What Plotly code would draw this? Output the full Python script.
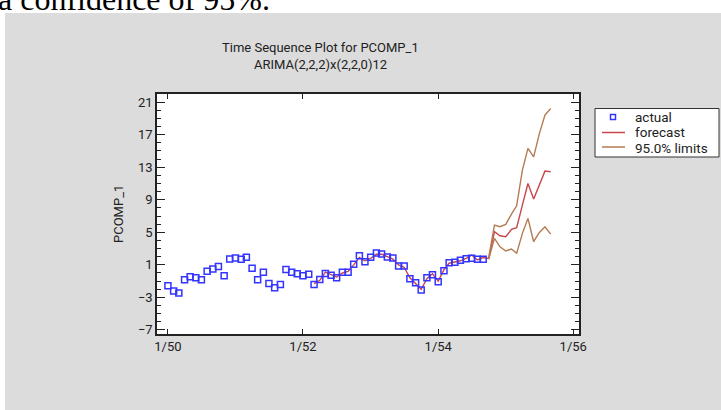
import plotly.graph_objects as go
import pandas as pd

# ---------------- data ----------------
actual_start = "1950-01-01"
actual = [-1.57, -2.2, -2.46, -0.83, -0.46, -0.58, -0.83, 0.2, 0.48, 0.8,
          -0.34, 1.71, 1.84, 1.68, 1.92, 0.57, -0.83, 0.08, -1.3, -1.83,
          -1.42, 0.44, 0.08, -0.09, -0.34, -0.17, -1.42, -0.8, -0.05, -0.29,
          -0.58, 0.08, 0.08, 1.06, 2.12, 1.38, 1.92, 2.45, 2.33, 1.96,
          1.84, 0.85, 0.85, -0.71, -1.2, -2.1, -0.58, -0.21, -1.07, 0.28,
          1.26, 1.31, 1.55, 1.75, 1.8, 1.68, 1.68]

fit_start = "1952-03-01"
forecast = [-1.3, -0.9, 0.1, -0.2, -0.5, 0.0, 0.2, 1.0, 1.9, 1.5,
            1.8, 2.3, 2.3, 2.0, 1.7, 1.0, 0.7, -0.6, -1.3, -2.0,
            -0.7, -0.1, -1.0, 0.4, 1.2, 1.4, 1.5, 1.8, 2.2, 1.6,
            1.9,
            1.8, 5.07, 4.58, 4.45, 5.36, 5.56, 8.35, 11.0, 9.08, 10.8,
            12.52, 12.44]

lim_start = "1954-10-01"
upper = [1.9, 5.89, 5.68, 5.97, 7.24, 8.26, 12.65, 15.31, 14.28, 17.07, 19.4, 20.22]
lower = [1.7, 4.25, 3.22, 2.7, 2.94, 2.41, 4.87, 6.71, 3.84, 4.95, 5.68, 4.78]

x_tick_vals = ["1950-01-01", "1952-01-01", "1954-01-01", "1956-01-01"]
x_tick_text = ["1/50", "1/52", "1/54", "1/56"]

title_text = "Time Sequence Plot for PCOMP_1"
subtitle_text = "ARIMA(2,2,2)x(2,2,0)12"
legend_names = ["actual", "forecast", "95.0% limits"]

# ---------------- layout geometry ----------------
WIDTH, HEIGHT = 721, 410
ML, MR, MT, MB = 157, 142, 94, 76
PW = WIDTH - ML - MR
PH = HEIGHT - MT - MB


def px2x(x):
    return (x - ML) / PW


def px2y(y):
    return (HEIGHT - MB - y) / PH


BLUE = "#3434FF"
RED = "#C8474C"
BROWN = "#B57A52"
GRAY = "#DCDCDC"
FONT = "Roboto"

d_act = pd.date_range(actual_start, periods=len(actual), freq="MS")
d_fit = pd.date_range(fit_start, periods=len(forecast), freq="MS")
d_lim = pd.date_range(lim_start, periods=len(upper), freq="MS")

fig = go.Figure()
fig.add_trace(go.Scatter(x=d_fit, y=forecast, mode="lines",
                         line=dict(color=RED, width=1.4), name=legend_names[1],
                         showlegend=False))
fig.add_trace(go.Scatter(x=d_lim, y=upper, mode="lines",
                         line=dict(color=BROWN, width=1.4), name=legend_names[2],
                         showlegend=False))
fig.add_trace(go.Scatter(x=d_lim, y=lower, mode="lines",
                         line=dict(color=BROWN, width=1.4), name=legend_names[2],
                         showlegend=False))
fig.add_trace(go.Scatter(x=d_act, y=actual, mode="markers",
                         marker=dict(symbol="square-open", size=6, color=BLUE,
                                     line=dict(width=1.5, color=BLUE)),
                         name=legend_names[0], showlegend=False))

axis_common = dict(showline=True, linecolor="#222222", linewidth=1.5,
                   mirror="allticks", showgrid=False, zeroline=False,
                   tickcolor="#222222", tickfont=dict(family=FONT, size=13, color="#222222"))

fig.update_xaxes(type="date", range=["1949-11-03", "1956-02-01"],
                 tickvals=x_tick_vals, ticktext=x_tick_text,
                 ticks="inside", ticklen=5, tickwidth=1.3, **axis_common)
fig.update_yaxes(range=[-7.5, 22], tick0=1, dtick=4,
                 ticks="inside", ticklen=8, tickwidth=1.3,
                 minor=dict(dtick=1, ticks="inside", ticklen=4, tickwidth=1.1,
                            tickcolor="#222222"),
                 **axis_common)

shapes = [
    # white page strips outside the gray panel
    dict(type="rect", xref="paper", yref="paper", x0=px2x(0), x1=px2x(WIDTH),
         y0=px2y(13), y1=px2y(-5), fillcolor="white", line_width=0, layer="below"),
    dict(type="rect", xref="paper", yref="paper", x0=px2x(-5), x1=px2x(5),
         y0=px2y(HEIGHT + 5), y1=px2y(-5), fillcolor="white", line_width=0, layer="below"),
    # legend box
    dict(type="rect", xref="paper", yref="paper", x0=px2x(595), x1=px2x(719),
         y0=px2y(157), y1=px2y(108.5), fillcolor="white",
         line=dict(color="#333333", width=1)),
    # legend symbols
    dict(type="rect", xref="paper", yref="paper", x0=px2x(610.5), x1=px2x(615.5),
         y0=px2y(119.5), y1=px2y(114.5), fillcolor="rgba(0,0,0,0)",
         line=dict(color=BLUE, width=1.5)),
    dict(type="line", xref="paper", yref="paper", x0=px2x(602), x1=px2x(625),
         y0=px2y(132.5), y1=px2y(132.5), line=dict(color=RED, width=1.5)),
    dict(type="line", xref="paper", yref="paper", x0=px2x(602), x1=px2x(625),
         y0=px2y(147), y1=px2y(147), line=dict(color=BROWN, width=1.5)),
]

txt = dict(family=FONT, size=13, color="#222222")
leg_txt = dict(family=FONT, size=13.5, color="#222222")
annotations = [
    dict(text=title_text, x=px2x(320), y=px2y(47), xref="paper", yref="paper",
         showarrow=False, xanchor="center", yanchor="middle",
         font=dict(family=FONT, size=13, color="#222222")),
    dict(text=subtitle_text, x=px2x(320), y=px2y(64), xref="paper", yref="paper",
         showarrow=False, xanchor="center", yanchor="middle",
         font=dict(family=FONT, size=13, color="#222222")),
    dict(text="PCOMP_1", x=px2x(118), y=px2y(214), xref="paper", yref="paper",
         showarrow=False, xanchor="center", yanchor="middle", textangle=-90, font=txt),
    dict(text="a confidence of 95%.", x=px2x(-4), y=px2y(-1), xref="paper", yref="paper",
         showarrow=False, xanchor="left", yanchor="middle",
         font=dict(family="Liberation Serif", size=32, color="black")),
]
for name, ypx in zip(legend_names, [116.5, 132, 147.5]):
    annotations.append(dict(text=name, x=px2x(634), y=px2y(ypx), xref="paper",
                            yref="paper", showarrow=False, xanchor="left",
                            yanchor="middle", borderpad=0, font=leg_txt))

fig.update_layout(width=WIDTH, height=HEIGHT,
                  margin=dict(l=ML, r=MR, t=MT, b=MB),
                  paper_bgcolor=GRAY, plot_bgcolor="white",
                  showlegend=False, shapes=shapes, annotations=annotations)

fig.write_html("out.html")
